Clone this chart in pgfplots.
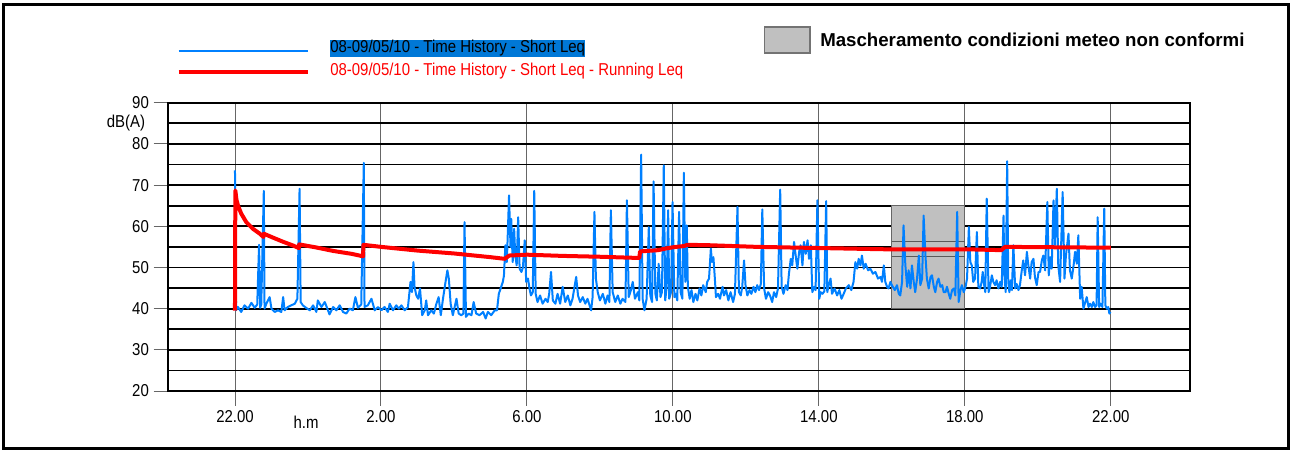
\documentclass[border=0pt]{standalone}
\usepackage{pgfplots}
\usepackage{pgfplotstable}
\pgfplotsset{compat=1.18}
\usepackage{fontspec}
\setmainfont{Liberation Sans}
\newfontfamily\narrowfont[FakeStretch=0.87]{Liberation Sans}
\newfontfamily\legfont[FakeStretch=0.87]{Liberation Sans}
\definecolor{bluel}{RGB}{0,128,255}
\definecolor{hlblue}{RGB}{0,120,215}
\definecolor{boxgray}{RGB}{192,192,192}

\pgfplotstableread{
h db
0.00 73.6
0.03 39.6
0.08 40.4
0.17 39.2
0.26 40.8
0.36 40.0
0.45 41.4
0.54 40.2
0.61 41.0
0.66 55.5
0.69 40.2
0.72 41.0
0.79 68.6
0.81 40.0
0.86 41.2
0.95 42.8
1.00 40.0
1.09 39.2
1.18 39.6
1.27 39.2
1.32 42.8
1.36 39.6
1.45 40.4
1.54 40.8
1.64 41.2
1.71 42.4
1.77 69.1
1.80 41.6
1.86 40.8
1.95 40.2
2.05 39.6
2.14 40.8
2.23 39.2
2.27 42.0
2.37 40.4
2.46 41.6
2.55 39.6
2.59 38.6
2.69 40.4
2.78 39.6
2.87 40.8
2.96 39.2
3.05 38.8
3.14 40.0
3.23 39.6
3.30 42.8
3.37 40.2
3.46 41.0
3.53 75.4
3.55 40.4
3.64 40.8
3.74 42.4
3.83 39.6
3.92 40.4
4.01 39.6
4.10 40.4
4.19 39.2
4.24 41.2
4.33 39.6
4.42 40.8
4.49 40.0
4.56 40.8
4.65 39.6
4.74 40.4
4.81 46.5
4.85 44.0
4.89 51.3
4.92 45.3
4.97 43.2
5.02 42.4
5.07 44.9
5.13 38.4
5.20 39.6
5.24 42.0
5.29 38.4
5.38 39.6
5.45 38.8
5.52 41.2
5.58 42.8
5.64 38.4
5.70 42.4
5.77 46.5
5.82 49.3
5.86 47.3
5.91 41.2
5.97 38.4
6.07 42.4
6.13 38.8
6.20 38.4
6.26 38.8
6.29 61.0
6.33 38.0
6.40 38.8
6.48 38.4
6.54 41.6
6.61 38.8
6.70 38.4
6.80 39.2
6.87 37.6
6.93 39.2
7.02 38.4
7.12 39.6
7.18 39.6
7.23 43.6
7.28 44.9
7.34 46.5
7.37 48.0
7.41 55.4
7.45 51.3
7.51 67.5
7.55 55.0
7.57 61.8
7.61 51.3
7.65 59.4
7.68 52.9
7.72 50.5
7.76 62.2
7.80 49.7
7.85 48.9
7.89 50.0
7.94 56.6
7.98 46.5
8.03 47.3
8.07 44.9
8.11 43.2
8.16 44.0
8.20 68.6
8.24 43.6
8.29 41.6
8.36 43.2
8.43 41.2
8.51 42.4
8.57 41.6
8.61 43.6
8.66 48.9
8.71 42.0
8.78 41.2
8.84 43.6
8.91 41.2
8.98 45.3
9.05 41.6
9.12 43.2
9.19 40.8
9.25 42.4
9.35 47.7
9.40 43.2
9.46 41.6
9.53 42.8
9.60 41.2
9.66 42.4
9.76 39.6
9.80 42.8
9.85 63.5
9.89 47.3
9.94 44.0
10.00 42.0
10.08 43.6
10.15 41.2
10.21 43.2
10.26 41.6
10.30 63.9
10.35 44.0
10.42 41.6
10.49 43.2
10.56 41.2
10.62 42.4
10.70 41.6
10.74 66.3
10.79 42.8
10.85 44.5
10.90 46.5
10.96 42.4
11.04 44.0
11.08 42.0
11.13 77.4
11.17 42.4
11.22 39.6
11.28 42.4
11.34 59.8
11.38 43.2
11.43 41.6
11.47 70.9
11.52 43.6
11.56 42.0
11.61 50.9
11.66 42.8
11.70 44.0
11.75 74.8
11.79 42.0
11.83 45.3
11.87 63.9
11.90 42.4
11.95 44.0
11.99 65.9
12.04 42.8
12.08 43.6
12.12 42.0
12.17 63.5
12.21 44.0
12.26 42.4
12.30 73.0
12.34 46.5
12.38 60.2
12.41 45.3
12.46 42.4
12.51 44.5
12.56 41.6
12.62 43.6
12.67 42.0
12.73 44.9
12.78 43.2
12.83 45.7
12.90 44.0
12.94 46.5
12.99 47.3
13.04 54.6
13.07 51.3
13.11 52.5
13.15 47.3
13.18 42.8
13.24 43.6
13.29 42.4
13.36 45.3
13.40 43.2
13.46 44.5
13.52 42.0
13.58 44.0
13.65 41.6
13.70 43.6
13.77 64.7
13.81 44.0
13.86 43.2
13.90 45.3
13.95 51.7
13.99 45.7
14.04 43.2
14.10 44.5
14.15 43.6
14.21 45.3
14.26 44.0
14.31 45.7
14.36 44.5
14.41 46.0
14.45 64.1
14.50 44.9
14.55 42.4
14.61 44.0
14.66 43.2
14.72 41.6
14.77 44.0
14.83 42.8
14.88 44.9
14.94 68.9
14.98 45.3
15.03 43.6
15.09 45.7
15.14 44.5
15.18 48.5
15.23 52.1
15.27 50.5
15.32 56.2
15.37 52.5
15.41 49.7
15.46 53.8
15.50 55.4
15.55 50.5
15.59 56.2
15.64 53.3
15.69 56.6
15.73 52.1
15.78 55.4
15.82 44.0
15.87 45.3
15.91 44.5
15.96 66.3
16.01 42.4
16.05 44.0
16.10 43.6
16.15 44.2
16.20 66.1
16.23 44.0
16.27 45.7
16.32 47.3
16.36 43.6
16.43 44.9
16.50 43.2
16.56 44.5
16.62 42.4
16.68 43.6
16.74 44.9
16.82 45.7
16.89 44.5
16.95 46.5
17.00 51.3
17.05 49.7
17.09 52.1
17.14 50.5
17.18 52.9
17.23 49.7
17.28 50.9
17.35 49.3
17.41 49.7
17.48 48.5
17.55 48.9
17.62 47.3
17.69 47.7
17.73 46.5
17.78 50.5
17.82 46.5
17.87 45.3
17.91 44.9
17.96 46.5
18.00 45.7
18.08 44.5
18.14 45.7
18.19 43.6
18.23 43.2
18.28 46.5
18.32 60.2
18.37 50.5
18.42 45.3
18.46 49.3
18.51 44.9
18.55 50.5
18.60 46.5
18.64 44.0
18.69 47.3
18.74 52.9
18.78 45.7
18.83 47.3
18.87 62.6
18.92 52.9
18.96 47.3
19.01 44.9
19.06 47.7
19.10 48.1
19.15 45.3
19.19 44.0
19.24 46.5
19.28 47.3
19.33 45.3
19.38 45.7
19.42 44.0
19.47 44.0
19.51 45.3
19.56 43.6
19.60 42.4
19.65 44.5
19.70 44.9
19.74 43.2
19.79 63.5
19.83 41.6
19.88 44.5
19.92 45.7
19.97 44.0
20.02 45.3
20.06 47.3
20.11 59.8
20.15 51.3
20.19 50.5
20.23 46.5
20.28 47.3
20.33 58.6
20.37 45.3
20.42 44.9
20.46 46.5
20.49 48.9
20.53 45.7
20.56 44.0
20.60 66.7
20.65 44.0
20.69 45.3
20.74 48.1
20.78 46.5
20.83 45.7
20.87 46.9
20.92 44.9
20.97 46.5
21.01 45.3
21.06 62.6
21.08 48.5
21.12 44.0
21.16 75.8
21.19 46.5
21.22 44.0
21.26 46.9
21.29 44.5
21.33 55.4
21.38 44.9
21.42 46.0
21.47 44.5
21.51 45.7
21.56 49.3
21.60 51.7
21.65 48.1
21.70 53.8
21.74 50.5
21.79 47.3
21.83 51.3
21.88 52.1
21.92 47.7
21.97 45.7
22.02 48.9
22.06 48.9
22.11 51.7
22.15 52.9
22.20 49.3
22.26 65.9
22.30 48.1
22.34 52.5
22.38 49.7
22.43 66.3
22.47 55.4
22.52 69.1
22.56 50.5
22.61 46.5
22.68 68.3
22.73 47.3
22.77 52.9
22.84 58.2
22.88 49.3
22.93 47.3
22.98 50.5
23.02 53.8
23.07 50.9
23.11 57.8
23.16 42.4
23.20 45.3
23.25 40.0
23.30 41.6
23.34 42.8
23.39 40.4
23.43 41.2
23.48 40.4
23.52 41.6
23.57 40.4
23.61 40.8
23.64 62.2
23.68 40.4
23.72 41.2
23.77 40.4
23.82 64.3
23.85 40.8
23.89 40.0
23.93 40.4
23.96 38.8
23.99 39.2
}\bluedata

\pgfplotstableread{
h db
0.00 39.5
0.01 68.7
0.04 66.5
0.08 65.1
0.17 63.1
0.31 61.0
0.49 59.4
0.68 58.2
0.78 57.4
0.79 58.2
1.00 57.4
1.30 56.3
1.60 55.3
1.75 54.7
1.76 55.6
2.20 54.9
2.70 54.0
3.20 53.3
3.51 52.7
3.52 55.5
4.00 55.0
5.00 54.1
6.00 53.4
7.00 52.5
7.39 52.1
7.52 52.9
8.00 53.1
9.00 52.8
10.00 52.6
11.08 52.3
11.10 53.9
11.60 54.2
11.80 54.6
12.00 54.9
12.30 55.2
12.40 55.5
13.00 55.4
14.30 55.0
16.10 54.7
17.90 54.4
20.10 54.4
21.00 54.2
21.10 55.0
24.00 54.8
}\reddata

\pgfplotstableread{
h db
18 40
20 40
20 65
18 65
18 40
}\maskbox

\pgfplotstableread{
h db
18 56.2
20 56.2
}\maskhi

\pgfplotstableread{
h db
18 52.7
20 52.7
}\masklo

\begin{document}
\begin{tikzpicture}
\useasboundingbox (-126.2pt,-44.25pt) rectangle (842.8pt,293.25pt);
\begin{axis}[
  at={(0pt,0pt)}, anchor=south west,
  scale only axis,
  width=766.3pt, height=216.2pt,
  xmin=-1.828, xmax=26.17, ymin=20, ymax=90,
  xtick={0,4,8,12,16,20,24},
  xticklabels={22.00,2.00,6.00,10.00,14.00,18.00,22.00},
  ytick={20,30,...,90},
  minor ytick={25,35,...,85},
  ymajorgrids, yminorgrids, xmajorgrids,
  y grid style={black, line width=1.3pt},
  x grid style={black!60, line width=0.7pt},
  tick align=outside,
  xtick pos=left, ytick pos=left,
  major tick length=11pt,
  minor tick length=0pt,
  tick style={black!60, line width=0.7pt},
  axis line style={black, line width=1.8pt},
  tick label style={font=\narrowfont\fontsize{12.9}{14}\selectfont},
  /pgf/number format/assume math mode=true,
  clip=true,
]
\addplot[fill=boxgray, draw=black!60, line width=0.8pt] table[x=h,y=db] {\maskbox};
\addplot[draw=black!65, line width=0.8pt] table[x=h,y=db] {\maskhi};
\addplot[draw=black!65, line width=0.8pt] table[x=h,y=db] {\masklo};
\addplot[bluel, line width=1.5pt, line join=round, mark=none] table[x=h,y=db] {\bluedata};
\addplot[red, line width=3pt, line join=round, mark=none] table[x=h,y=db] {\reddata};
\end{axis}

% axis texts
\node[font=\narrowfont\fontsize{12.9}{14}\selectfont, inner sep=0pt] at (-31.7pt,201pt) {dB(A)};
\node[font=\narrowfont\fontsize{12.9}{14}\selectfont, inner sep=0pt] at (103.3pt,-23.25pt) {h.m};

% legend
\draw[bluel, line width=1.5pt] (7.7pt,255.2pt) -- (104.8pt,255.2pt);
\draw[red, line width=3pt] (7.7pt,239.5pt) -- (104.8pt,239.5pt);
\node[anchor=base west, fill=hlblue, inner xsep=0pt, inner ysep=0pt, text height=9.8pt, text depth=3pt, text=black, font=\legfont\fontsize{12.9}{14}\selectfont] at (121.3pt,253.5pt) {08-09/05/10 - Time History - Short Leq};
\node[anchor=base west, inner sep=0pt, text=red, font=\legfont\fontsize{12.9}{14}\selectfont] at (121.3pt,236.6pt) {08-09/05/10 - Time History - Short Leq - Running Leq};
\draw[fill=boxgray, draw=black!55, line width=0.8pt] (447.5pt,253.5pt) rectangle (481.3pt,273pt);
\node[anchor=base west, inner sep=0pt, font=\bfseries\fontsize{14}{16}\selectfont] at (488.8pt,258.5pt) {Mascheramento condizioni meteo non conformi};

% outer frame
\draw[black, line width=2.25pt] (-123.2pt,-42.75pt) rectangle (839.8pt,289.5pt);
\end{tikzpicture}
\end{document}
